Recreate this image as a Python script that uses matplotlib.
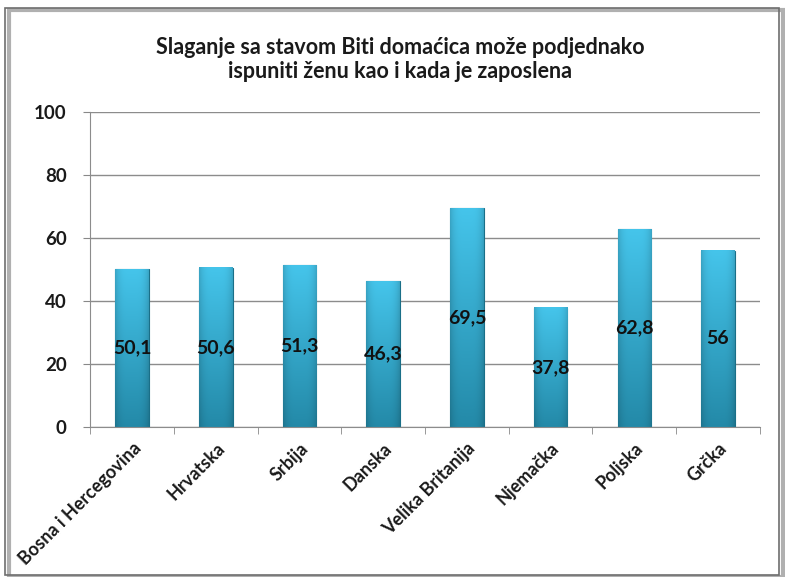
import matplotlib
matplotlib.use("Agg")
import matplotlib.pyplot as plt
from matplotlib.patches import Rectangle
import numpy as np

countries = ["Bosna i Hercegovina", "Hrvatska", "Srbija", "Danska",
             "Velika Britanija", "Njemačka", "Poljska", "Grčka"]
values = [50.1, 50.6, 51.3, 46.3, 69.5, 37.8, 62.8, 56]
labels = ["50,1", "50,6", "51,3", "46,3", "69,5", "37,8", "62,8", "56"]

plt.rcParams["font.family"] = ["Lato", "DejaVu Sans"]

fig = plt.figure(figsize=(7.85, 5.77), dpi=100)
ax = fig.add_axes([0.115, 0.26, 0.853, 0.546])

# frame around the whole chart, with a little shadow
fig.patches.append(Rectangle((0.012, 0.0), 0.985, 0.982, transform=fig.transFigure,
                             fill=False, edgecolor="#b0b0b0", lw=3, zorder=0))
fig.patches.append(Rectangle((0.007, 0.004), 0.985, 0.982, transform=fig.transFigure,
                             fill=False, edgecolor="#6e6e6e", lw=1.2, zorder=1))

x = np.arange(len(countries))
width = 0.4
bars = ax.bar(x, values, width=width, color="#2aa6c9", edgecolor="#1a6f88", lw=0.8, zorder=2)

# gradient fill: light cyan on top, darker teal at the bottom, darker at the sides
top = np.array([0.27, 0.77, 0.92])
bot = np.array([0.14, 0.54, 0.66])
vert = np.linspace(0, 1, 60)[:, None]
horiz = 1 - np.abs(np.linspace(-1, 1, 30))[None, :] ** 4
for b in bars:
    img = (bot[None, None, :] * (1 - vert[..., None]) + top[None, None, :] * vert[..., None])
    img = img * (0.85 + 0.15 * horiz[..., None])
    img = np.clip(img, 0, 1)
    ax.imshow(img, extent=[b.get_x(), b.get_x() + b.get_width(), 0, b.get_height()],
              origin="lower", aspect="auto", zorder=2.5)

for xi, v, lab in zip(x, values, labels):
    ax.text(xi, v / 2, lab, ha="center", va="center", fontsize=14, fontweight="bold",
            color="#111111", zorder=4)

ax.set_xlim(-0.5, len(countries) - 0.5)
ax.set_ylim(0, 100)
ax.set_yticks([0, 20, 40, 60, 80, 100])
ax.set_xticks(x)
ax.set_xticklabels(countries, rotation=45, ha="right", rotation_mode="anchor",
                   fontsize=13, fontweight="bold", color="#1a1a1a")
ax.set_xticks(np.arange(-0.5, len(countries), 1), minor=True)
ax.tick_params(axis="x", which="major", length=0, pad=9)
ax.tick_params(axis="x", which="minor", length=5, color="#888888")
ax.tick_params(axis="y", length=5, color="#888888", labelsize=13.5, pad=12)
for t in ax.get_yticklabels():
    t.set_fontweight("bold")
    t.set_color("#1a1a1a")

ax.grid(axis="y", color="#8c8c8c", lw=1.0, zorder=0)
ax.set_axisbelow(True)
for s in ["top", "right"]:
    ax.spines[s].set_visible(False)
ax.spines["left"].set_color("#8c8c8c")
ax.spines["bottom"].set_color("#8c8c8c")

fig.text(0.51, 0.897, "Slaganje sa stavom Biti domaćica može podjednako\nispuniti ženu kao i kada je zaposlena",
         ha="center", va="center", fontsize=15.5, fontweight="bold", color="#1a1a1a",
         linespacing=1.2)

fig.savefig("out.png", dpi=100)
